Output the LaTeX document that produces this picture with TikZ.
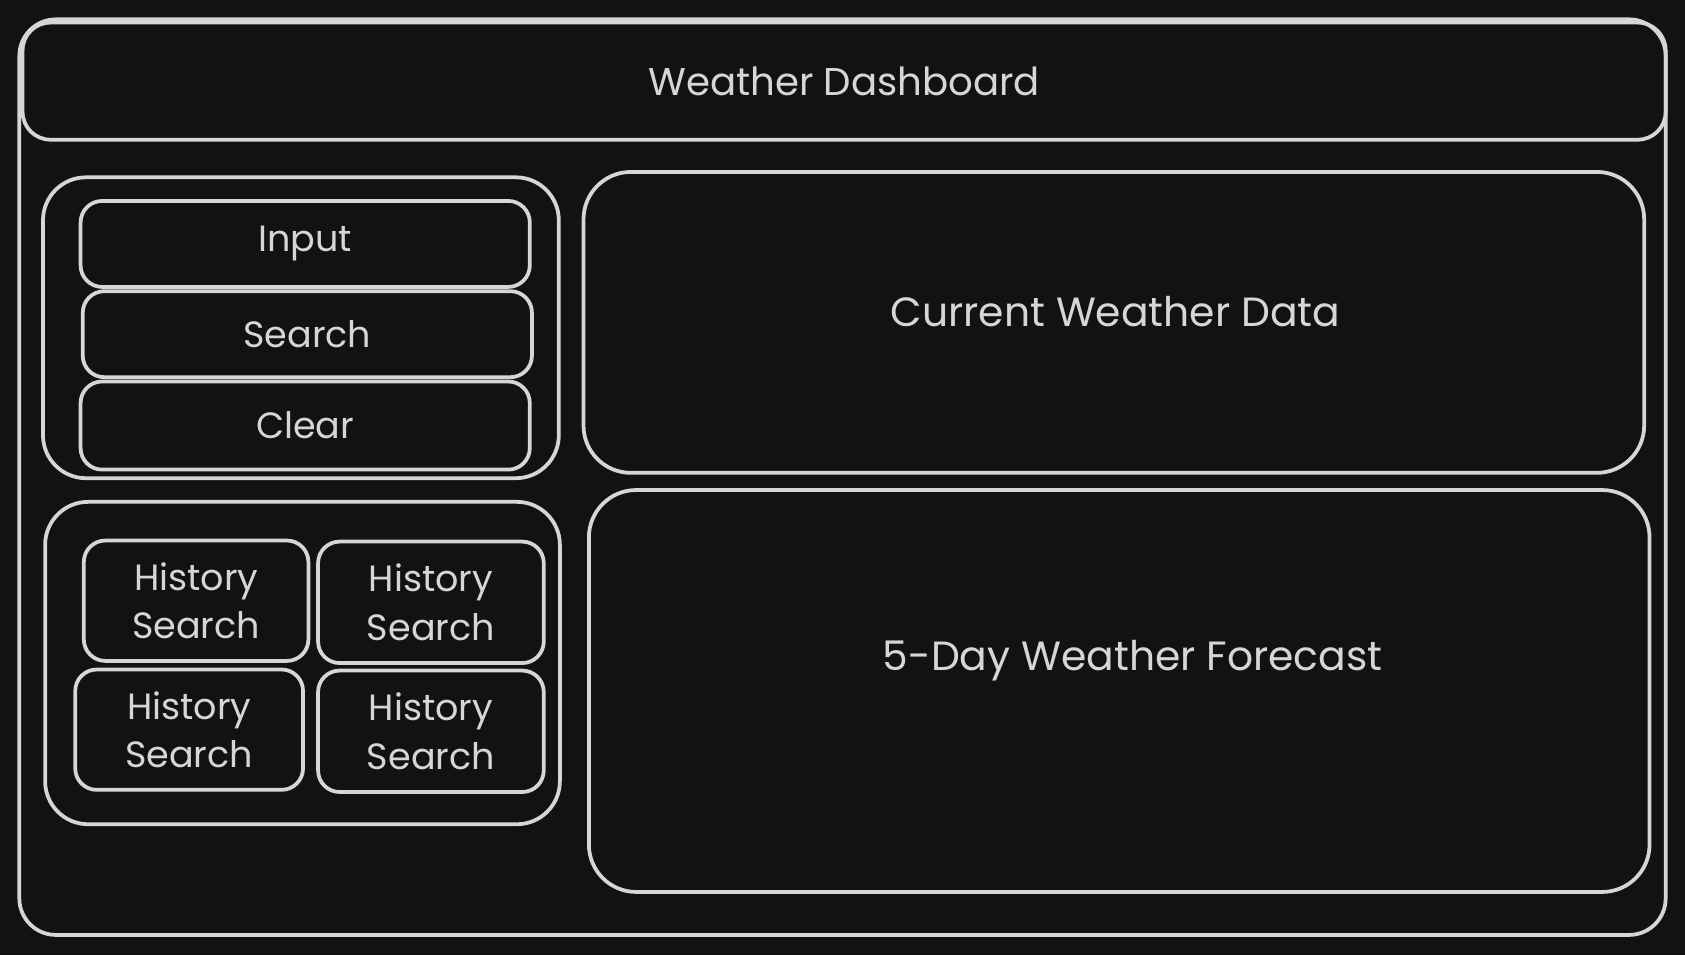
\documentclass[tikz,border=0pt]{standalone}
\usepackage{fontspec}
\setmainfont{Poppins}
\definecolor{bgdark}{HTML}{121212}
\definecolor{inkgray}{HTML}{D6D6D6}

\begin{document}
\begin{tikzpicture}[x=1pt,y=-1pt]
  \tikzset{panel/.style = {draw=inkgray,line width=3.5pt,rounded corners=34pt,inner sep=0pt}}
  \tikzset{btn/.style = {panel,rounded corners=20pt,text=inkgray,font=\fontsize{34}{45}\selectfont,align=center}}
  \tikzset{title/.style = {text=inkgray,font=\fontsize{38}{44}\selectfont}}

  \fill[bgdark] (0,0) rectangle (1568,889);
  \useasboundingbox (0,0) rectangle (1568,889);

	\node[panel,minimum width=1532pt,minimum height=852pt] (frame) at (784,444) {};
	\node[panel,rounded corners=26pt,minimum width=1529pt,minimum height=109pt,title,font=\fontsize{36}{42}\selectfont] (header) at (785.5,75.5) {Weather Dashboard};

	% left column
	\node[panel,rounded corners=40pt,minimum width=480pt,minimum height=280pt] (tools) at (280,305) {};
	\node[btn,minimum width=418pt,minimum height=80pt] (input) at (284,227) {Input};
	\node[btn,minimum width=418pt,minimum height=80pt] (search) at (286,311) {Search};
	\node[btn,minimum width=418pt,minimum height=82pt] (clear) at (284,396) {Clear};

	\node[panel,rounded corners=40pt,minimum width=479pt,minimum height=300pt] (history) at (281.5,617) {};
	\node[btn,minimum width=209pt,minimum height=112pt] (hist1) at (182.5,559) {History\\Search};
	\node[btn,minimum width=210pt,minimum height=113pt] (hist2) at (401,560.5) {History\\Search};
	\node[btn,minimum width=212pt,minimum height=112pt] (hist3) at (176,679) {History\\Search};
	\node[btn,minimum width=210pt,minimum height=113pt] (hist4) at (401,680.5) {History\\Search};

	% right column
	\node[panel,rounded corners=44pt,minimum width=987pt,minimum height=280pt] (current) at (1036.5,300) {};
	\node[title] (currenttxt) at (1038,290) {Current Weather Data};
	\node[panel,rounded corners=44pt,minimum width=987pt,minimum height=374pt] (forecast) at (1041.5,643) {};
	\node[title] (forecasttxt) at (1054,615) {5-Day Weather Forecast};
\end{tikzpicture}
\end{document}
